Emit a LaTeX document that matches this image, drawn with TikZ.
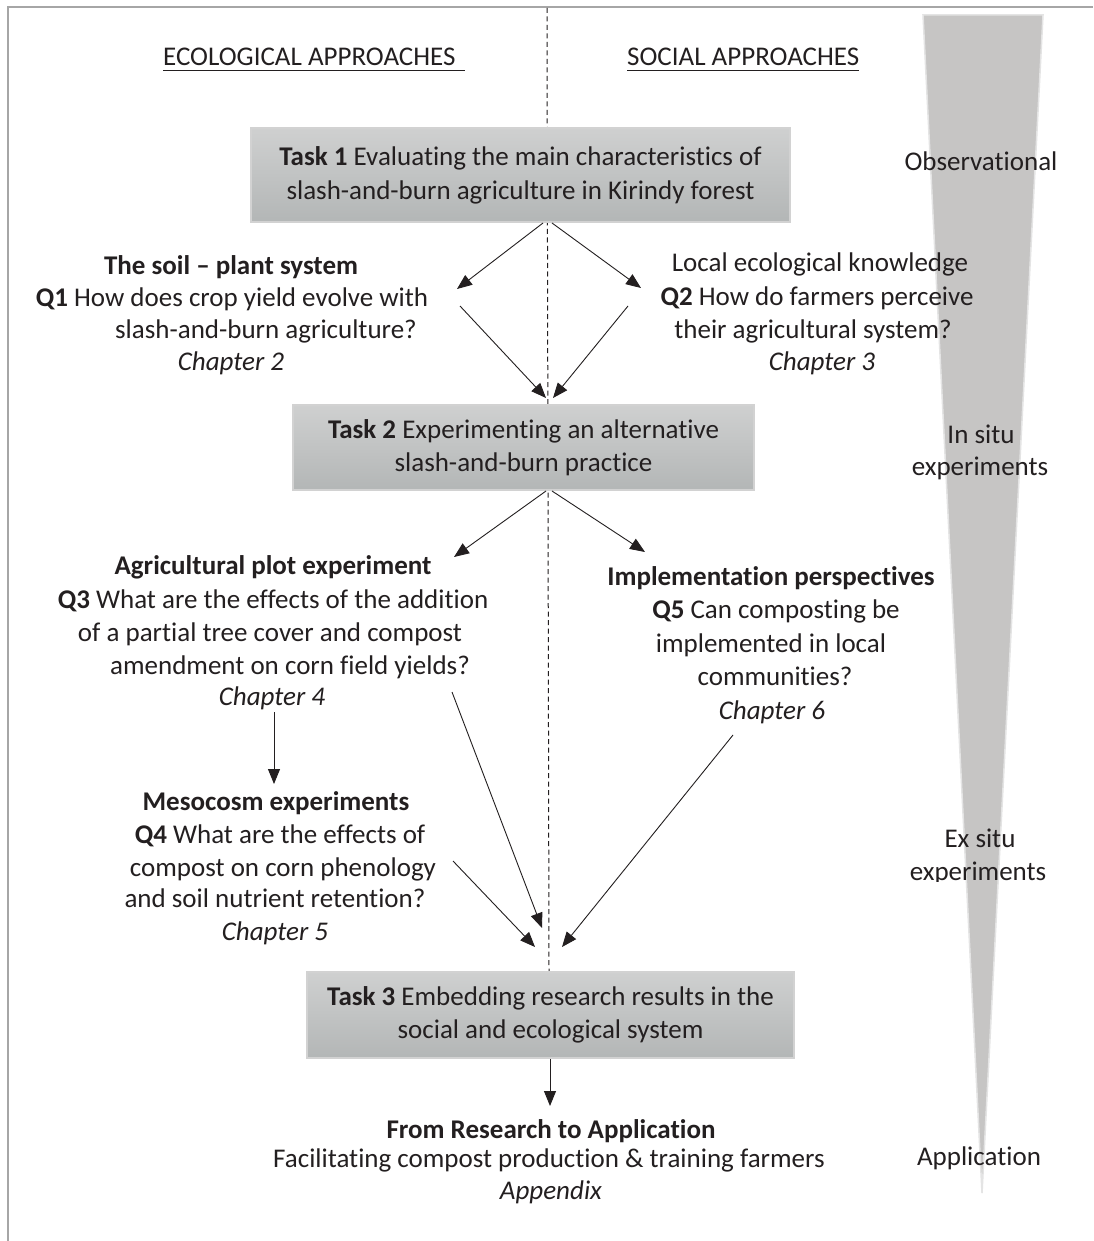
\documentclass[tikz,border=0pt]{standalone}
\usepackage{fontspec}
\setmainfont{Carlito}[Ligatures=NoCommon]
\usetikzlibrary{arrows.meta}
\definecolor{ink}{HTML}{231F20}
\definecolor{frameline}{HTML}{A6A6A6}
\definecolor{boxtop}{HTML}{CFD0D0}
\definecolor{boxbot}{HTML}{B3B6B6}
\definecolor{boxedge}{HTML}{D2D2D2}
\definecolor{wedge}{HTML}{C6C5C4}
\definecolor{wedgeedge}{HTML}{E4E4E4}
\begin{document}
\begin{tikzpicture}[x=1pt,y=-1pt,
  lbl/.style={font=\fontsize{27}{33}\selectfont, text=ink, inner sep=0pt, anchor=base},
  task/.style={draw=boxedge, line width=1.2pt, top color=boxtop, bottom color=boxbot,
    inner sep=0pt, text=ink, align=center, font=\fontsize{27}{33}\selectfont},
  arr/.style={draw=ink, line width=0.9pt, -{Triangle[length=15pt,width=12pt]}},
  divider/.style={draw=ink, line width=1pt, dash pattern=on 5pt off 3.5pt}]
\useasboundingbox (0,0) rectangle (1093,1241);
\fill[white] (0,0) rectangle (1093,1241);

% outer frame: top and left edges only
\draw[frameline, line width=1.5pt] (8,1241) -- (8,7) -- (1093,7);

% tapering wedge on the right
\fill[wedge, draw=wedgeedge, line width=1.5pt] (923,15) -- (1043,15) -- (982,1193) -- cycle;

% dashed divider between the two approaches
\coordinate (divtop) at (547,8);
\coordinate (divbot) at (549,972);
\draw[divider] (divtop) -- (divbot);

% column headings
\node[lbl, anchor=base west] (eco) at (163,66) {ECOLOGICAL APPROACHES};
\node[lbl, anchor=base west] (soc) at (627,66) {SOCIAL APPROACHES};
\draw[ink, line width=1.5pt] ([yshift=-4.5pt]eco.base west) -- ([yshift=-4.5pt,xshift=9pt]eco.base east);
\draw[ink, line width=1.5pt] ([yshift=-4.5pt]soc.base west) -- ([yshift=-4.5pt]soc.base east);

% task boxes
\node[task, minimum width=539pt, minimum height=94pt] (t1) at (520.5,175)
  {\textbf{Task 1} Evaluating the main characteristics of\\[1pt]slash-and-burn agriculture in Kirindy forest};
\node[task, minimum width=461pt, minimum height=85pt] (t2) at (523.5,447.5)
  {\textbf{Task 2} Experimenting an alternative\\slash-and-burn practice};
\node[task, minimum width=487pt, minimum height=86pt] (t3) at (550.5,1015)
  {\textbf{Task 3} Embedding research results in the\\social and ecological system};

% soil-plant block
\node[lbl] (q1a) at (231,274) {\textbf{The soil – plant system}};
\node[lbl] (q1b) at (232,306) {\textbf{Q1} How does crop yield evolve with};
\node[lbl] (q1c) at (266,338) {slash-and-burn agriculture?};
\node[lbl] (q1d) at (231,370) {\textit{Chapter 2}};

% local knowledge block
\node[lbl] (q2a) at (820,272) {Local ecological knowledge};
\node[lbl] (q2b) at (817,305) {\textbf{Q2} How do farmers perceive};
\node[lbl] (q2c) at (813,338) {their agricultural system?};
\node[lbl] (q2d) at (822,370) {\textit{Chapter 3}};

% agricultural plot block
\node[lbl] (q3a) at (273,574) {\textbf{Agricultural plot experiment}};
\node[lbl] (q3b) at (273,608) {\textbf{Q3} What are the effects of the addition};
\node[lbl] (q3c) at (270,641) {of a partial tree cover and compost};
\node[lbl] (q3d) at (290,674) {amendment on corn field yields?};
\node[lbl] (q3e) at (272,705) {\textit{Chapter 4}};

% implementation block
\node[lbl] (q5a) at (771,585) {\textbf{Implementation perspectives}};
\node[lbl] (q5b) at (776,618) {\textbf{Q5} Can composting be};
\node[lbl] (q5c) at (771,652) {implemented in local};
\node[lbl] (q5d) at (775,685) {communities?};
\node[lbl] (q5e) at (772,719) {\textit{Chapter 6}};

% mesocosm block
\node[lbl] (q4a) at (276,810) {\textbf{Mesocosm experiments}};
\node[lbl] (q4b) at (280,843) {\textbf{Q4} What are the effects of};
\node[lbl] (q4c) at (283,876) {compost on corn phenology};
\node[lbl] (q4d) at (275,907) {and soil nutrient retention?};
\node[lbl] (q4e) at (275,940) {\textit{Chapter 5}};

% application block
\node[lbl] (ap1) at (551,1138) {\textbf{From Research to Application}};
\node[lbl] (ap2) at (549,1167) {Facilitating compost production \& training farmers};
\node[lbl] (ap3) at (551,1199) {\textit{Appendix}};

% stages along the wedge
\node[lbl] (obs) at (981,171) {Observational};
\node[lbl] (ins1) at (981,443) {In situ};
\node[lbl] (ins2) at (980,475) {experiments};
\node[lbl] (exs1) at (980,847) {Ex situ};
\begin{scope}
  \clip (880,850) rectangle (1093,881);
  \node[lbl] (exs2) at (978,880) {experiments};
\end{scope}
\node[lbl] (appl) at (979,1165) {Application};

% connector end points
\coordinate (t1l) at (543,223);
\coordinate (t1r) at (552,223);
\coordinate (q1in) at (457,289);
\coordinate (q2in) at (641,288);
\coordinate (q1out) at (460,306);
\coordinate (q2out) at (628,306);
\coordinate (t2inl) at (546,398);
\coordinate (t2inr) at (553,398);
\coordinate (t2l) at (546,491);
\coordinate (t2r) at (552,491);
\coordinate (q3in) at (454,557);
\coordinate (q5in) at (645,552);
\coordinate (q3down) at (274,712);
\coordinate (q4in) at (274,784);
\coordinate (q3out) at (452,692);
\coordinate (q4out) at (453,861);
\coordinate (q5out) at (733,735);
\coordinate (t3ina) at (542,928);
\coordinate (t3inb) at (535,947);
\coordinate (t3inc) at (562,947);
\coordinate (t3out) at (550,1059);
\coordinate (apin) at (550,1106);

% connectors
\draw[arr] (t1l) -- (q1in);
\draw[arr] (t1r) -- (q2in);
\draw[arr] (q1out) -- (t2inl);
\draw[arr] (q2out) -- (t2inr);
\draw[arr] (t2l) -- (q3in);
\draw[arr] (t2r) -- (q5in);
\draw[arr] (q3down) -- (q4in);
\draw[arr] (q3out) -- (t3ina);
\draw[arr] (q4out) -- (t3inb);
\draw[arr] (q5out) -- (t3inc);
\draw[arr] (t3out) -- (apin);
\end{tikzpicture}
\end{document}
